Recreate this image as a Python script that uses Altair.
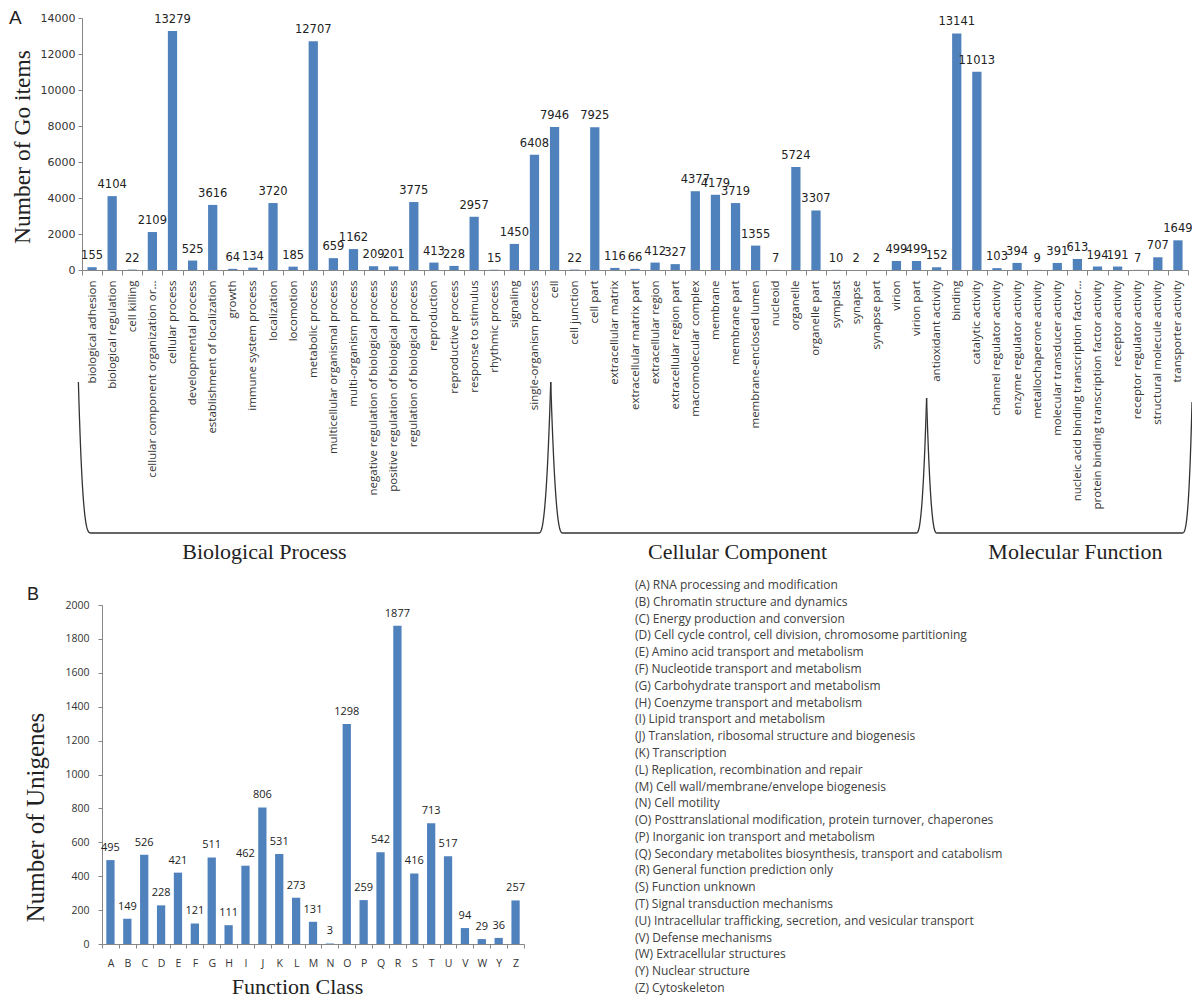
import altair as alt
import pandas as pd

# ---------------- data ----------------
bp_terms = ["biological adhesion", "biological regulation", "cell killing",
            "cellular component organization or...", "cellular process",
            "developmental process", "establishment of localization", "growth",
            "immune system process", "localization", "locomotion", "metabolic process",
            "multicellular organismal process", "multi-organism process",
            "negative regulation of biological process",
            "positive regulation of biological process",
            "regulation of biological process", "reproduction", "reproductive process",
            "response to stimulus", "rhythmic process", "signaling",
            "single-organism process"]
bp_values = [155, 4104, 22, 2109, 13279, 525, 3616, 64, 134, 3720, 185, 12707, 659,
             1162, 209, 201, 3775, 413, 228, 2957, 15, 1450, 6408]

cc_terms = ["cell", "cell junction", "cell part", "extracellular matrix",
            "extracellular matrix part", "extracellular region",
            "extracellular region part", "macromolecular complex", "membrane",
            "membrane part", "membrane-enclosed lumen", "nucleoid", "organelle",
            "organelle part", "symplast", "synapse", "synapse part", "virion",
            "virion part"]
cc_values = [7946, 22, 7925, 116, 66, 412, 327, 4377, 4179, 3719, 1355, 7, 5724,
             3307, 10, 2, 2, 499, 499]

mf_terms = ["antioxidant activity", "binding", "catalytic activity",
            "channel regulator activity", "enzyme regulator activity",
            "metallochaperone activity", "molecular transducer activity",
            "nucleic acid binding transcription factor...",
            "protein binding transcription factor activity", "receptor activity",
            "receptor regulator activity", "structural molecule activity",
            "transporter activity"]
mf_values = [152, 13141, 11013, 103, 394, 9, 391, 613, 194, 191, 7, 707, 1649]

group_names = ["Biological Process", "Cellular Component", "Molecular Function"]

cog_codes = ["A", "B", "C", "D", "E", "F", "G", "H", "I", "J", "K", "L", "M", "N",
             "O", "P", "Q", "R", "S", "T", "U", "V", "W", "Y", "Z"]
cog_values = [495, 149, 526, 228, 421, 121, 511, 111, 462, 806, 531, 273, 131, 3,
              1298, 259, 542, 1877, 416, 713, 517, 94, 29, 36, 257]
cog_desc = [
    "(A) RNA processing and modification",
    "(B) Chromatin  structure and dynamics",
    "(C) Energy production and conversion",
    "(D) Cell cycle control, cell division,  chromosome partitioning",
    "(E) Amino acid transport and metabolism",
    "(F) Nucleotide transport and metabolism",
    "(G) Carbohydrate  transport and  metabolism",
    "(H) Coenzyme  transport and metabolism",
    "(I) Lipid transport and metabolism",
    "(J) Translation,  ribosomal structure and biogenesis",
    "(K) Transcription",
    "(L) Replication, recombination and repair",
    "(M) Cell wall/membrane/envelope  biogenesis",
    "(N) Cell motility",
    "(O) Posttranslational  modification,  protein turnover, chaperones",
    "(P) Inorganic ion transport and metabolism",
    "(Q) Secondary metabolites  biosynthesis, transport and catabolism",
    "(R) General function prediction only",
    "(S) Function unknown",
    "(T) Signal transduction  mechanisms",
    "(U) Intracellular trafficking, secretion, and vesicular transport",
    "(V) Defense mechanisms",
    "(W) Extracellular structures",
    "(Y) Nuclear structure",
    "(Z) Cytoskeleton",
]

# ---------------- layout / style ----------------
W, H = 1110, 979
A_W, A_H = 1106, 252
B_X0, B_X1, B_Y0, B_Y1 = 20, 442, 926, 587
BLUE = "#4F81BD"
AX = "#868686"
TXT = "#333333"
SERIF = "Liberation Serif"
SANS = "Open Sans"

terms = bp_terms + cc_terms + mf_terms
values = bp_values + cc_values + mf_values
dfA = pd.DataFrame({"term": terms, "value": values})

xA_scale = alt.Scale(range=[0, A_W], paddingInner=0, paddingOuter=0)
yA_scale = alt.Scale(domain=[0, 14000], range=[A_H, 0], nice=False, zero=True)

barsA = alt.Chart(dfA).mark_bar(color=BLUE, width=alt.RelativeBandSize(0.46)).encode(
    x=alt.X("term:N", sort=terms, scale=xA_scale,
            axis=alt.Axis(orient="bottom", offset=A_H - H, title=None, labelAngle=-90,
                          labelFont=SANS, labelFontSize=11.5, labelColor=TXT,
                          labelLimit=0, labelPadding=5, labelOverlap=False,
                          tickBand="extent", tickSize=5, tickColor=AX,
                          domainColor=AX)),
    y=alt.Y("value:Q", scale=yA_scale,
            axis=alt.Axis(orient="left", values=list(range(0, 14001, 2000)),
                          format="d",
                          title="Number of Go items", titleFont=SERIF,
                          titleFontSize=23.5, titleFontWeight="normal",
                          titleColor="#222222", titleX=-53, titleY=128.5,
                          titleAngle=270, titleBaseline="alphabetic",
                          titleAlign="center", labelFont="DejaVu Sans",
                          labelFontSize=11, labelColor=TXT, tickSize=4,
                          labelPadding=3, grid=False, domainColor=AX,
                          tickColor=AX)),
)
textA = alt.Chart(dfA).mark_text(dy=-8, baseline="alphabetic", font="DejaVu Sans",
                                 fontSize=11.5, color="#222222").encode(
    x=alt.X("term:N", sort=terms),
    y=alt.Y("value:Q"),
    text=alt.Text("value:Q"),
)
layerA = alt.layer(barsA, textA)

# ---- panel B ----
dfB = pd.DataFrame({"code": cog_codes, "n": cog_values})
barsB = alt.Chart(dfB).mark_bar(color=BLUE, width=alt.RelativeBandSize(0.49)).encode(
    x=alt.X("code:N", sort=cog_codes,
            scale=alt.Scale(range=[B_X0, B_X1], paddingInner=0, paddingOuter=0),
            axis=alt.Axis(orient="bottom", offset=B_Y0 - H, title="Function Class",
                          titleFont=SERIF, titleFontSize=22, titleFontWeight="normal",
                          titleColor="#222222", titleX=215, titleY=49,
                          titleBaseline="alphabetic", titleAlign="center",
                          labelAngle=0, labelFont=SANS, labelFontSize=10.5,
                          labelColor=TXT, labelPadding=10, tickBand="extent",
                          tickSize=4, tickColor=AX, domainColor=AX)),
    y=alt.Y("n:Q", scale=alt.Scale(domain=[0, 2000], range=[B_Y0, B_Y1], nice=False),
            axis=alt.Axis(orient="left", offset=-B_X0,
                          values=list(range(0, 2001, 200)), format="d",
                          title="Number of  Unigenes", titleFont=SERIF,
                          titleFontSize=25, titleFontWeight="normal",
                          titleColor="#222222", titleX=-59, titleY=799,
                          titleAngle=270, titleBaseline="alphabetic",
                          titleAlign="center", labelFont=SANS, labelFontSize=10.5,
                          labelColor=TXT, labelPadding=9, tickSize=4, grid=False,
                          domainColor=AX, tickColor=AX)),
)
textB = alt.Chart(dfB).mark_text(dy=-9, baseline="alphabetic", font=SANS,
                                 fontSize=11, color="#222222").encode(
    x=alt.X("code:N", sort=cog_codes),
    y=alt.Y("n:Q"),
    text=alt.Text("n:Q"),
)
layerB = alt.layer(barsB, textB)

# ---- COG legend list ----
dfL = pd.DataFrame({"code": cog_codes, "desc": cog_desc})
legend = alt.Chart(dfL).mark_text(align="left", baseline="middle", font=SANS,
                                  fontSize=12, color="#404040").encode(
    x=alt.value(553),
    y=alt.Y("code:N", sort=cog_codes,
            scale=alt.Scale(type="point", range=[567, 970], padding=0), axis=None),
    text="desc:N",
)

# ---- braces under the GO categories (in band units) ----
# brace anchors: (position in bands, top pixel, half-width in bands, curvature)
anchors = [(-0.18, 364, 0.63, 3.0), (23.31, 364, 0.59, 2.5),
           (42.0, 380, 0.51, 2.5), (55.2, 384, 0.5, 3.0)]
BOTTOM = 515
rows = []
for g in range(3):
    xl, tl, wl, pl = anchors[g]
    xr, tr, wr, pr = anchors[g + 1]
    k = 0
    N = 24
    for i in range(N + 1):
        t = i / N
        rows.append({"grp": g, "ord": k, "u": xl + t * wl,
                     "y": BOTTOM - (BOTTOM - tl) * (1 - t) ** pl})
        k += 1
    for i in range(N + 1):
        t = i / N
        rows.append({"grp": g, "ord": k, "u": xr - wr + t * wr,
                     "y": BOTTOM - (BOTTOM - tr) * t ** pr})
        k += 1
dfBrace = pd.DataFrame(rows)

u_scale = alt.Scale(domain=[0, len(terms)], range=[0, A_W], nice=False, zero=False)
pix_scale = alt.Scale(domain=[0, H], range=[0, H], nice=False, zero=False)

braces = alt.Chart(dfBrace).mark_line(color="#333333", strokeWidth=1.3).encode(
    x=alt.X("u:Q", scale=u_scale, axis=None),
    y=alt.Y("y:Q", scale=pix_scale, axis=None),
    detail="grp:N",
    order="ord:Q",
)
dfG = pd.DataFrame({"name": group_names, "u": [9.07, 32.6, 49.4], "y": [541, 541, 541]})
group_text = alt.Chart(dfG).mark_text(font=SERIF, fontSize=22, color="#222222",
                                      baseline="alphabetic", align="center").encode(
    x=alt.X("u:Q", scale=u_scale, axis=None),
    y=alt.Y("y:Q", scale=pix_scale, axis=None),
    text="name:N",
)
layerBrace = alt.layer(braces, group_text)

letterA = alt.Chart(pd.DataFrame({"t": ["A"]})).mark_text(
    font="Liberation Sans", fontSize=19, color="#222222", align="left",
    baseline="alphabetic").encode(x=alt.value(-73), y=alt.value(6), text="t:N")
letterB = alt.Chart(pd.DataFrame({"t": ["B"]})).mark_text(
    font="Liberation Sans", fontSize=18, color="#222222", align="left",
    baseline="alphabetic").encode(x=alt.value(-55), y=alt.value(582), text="t:N")

chart = alt.layer(layerA, layerB, legend, layerBrace, letterA, letterB).resolve_scale(
    x="independent", y="independent"
).properties(
    width=W, height=H, background="white",
    padding={"left": 74, "top": 10, "right": 0, "bottom": 0},
    autosize=alt.AutoSizeParams(type="none"),
).configure_view(stroke=None, strokeWidth=0)

chart.save("out.html", embed_options={"renderer": "svg", "actions": False})
